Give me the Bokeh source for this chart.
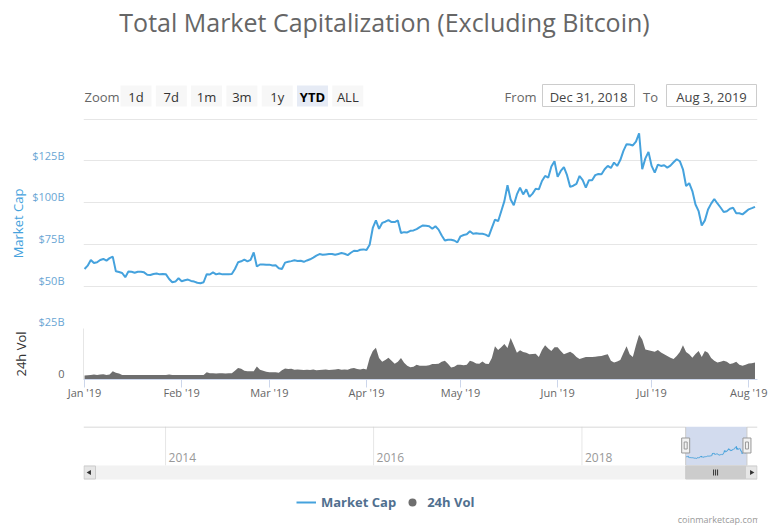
import pandas as pd
from bokeh.plotting import figure
from bokeh.models import (Range1d, FixedTicker, MonthsTicker, DatetimeTickFormatter,
                          Legend, LegendItem, Label, ColumnDataSource)
from bokeh.layouts import column
from bokeh.embed import file_html
from bokeh.resources import INLINE
from bokeh.core.properties import value

# ---------------- data ----------------
TITLE = "Total Market Capitalization (Excluding Bitcoin)"
start_date = "2019-01-01"
mcap_b = [
    60.5, 62.5, 65.9, 64.1, 64.5, 65.9, 66.5, 65.5, 67.0, 67.9,
    59.1, 58.7, 58.1, 55.6, 59.0, 58.9, 58.3, 58.9, 58.8, 58.5,
    57.1, 56.9, 57.5, 57.8, 57.3, 57.5, 57.3, 54.5, 52.6, 53.0,
    55.0, 53.2, 53.8, 54.2, 53.4, 53.0, 52.3, 52.0, 52.6, 57.4,
    57.2, 58.5, 57.3, 57.8, 57.3, 57.3, 57.3, 57.5, 60.5, 64.5,
    65.1, 66.1, 65.0, 66.0, 70.4, 62.0, 63.2, 63.2, 63.0, 63.1,
    62.6, 62.7, 61.0, 60.5, 64.3, 64.8, 65.2, 65.7, 65.3, 65.4,
    64.8, 65.6, 66.3, 67.3, 68.5, 69.4, 69.0, 69.2, 69.4, 69.5,
    69.0, 69.5, 70.0, 69.6, 68.8, 70.2, 71.4, 71.2, 72.0, 72.2,
    71.8, 75.0, 85.0, 89.5, 84.5, 88.0, 88.7, 89.7, 88.5, 88.5,
    89.5, 82.0, 82.5, 82.3, 83.3, 83.5, 84.3, 85.5, 86.5, 86.3,
    86.0, 84.5, 86.0, 84.0, 80.5, 77.5, 78.0, 78.0, 77.5, 76.4,
    80.0, 80.8, 81.2, 83.0, 81.5, 81.8, 81.5, 81.5, 81.0, 80.0,
    85.0, 90.0, 89.0, 95.0, 101.0, 110.5, 102.0, 98.5, 105.0, 109.1,
    105.0, 108.0, 103.5, 105.5, 108.4, 108.0, 113.0, 116.0, 115.0, 121.6,
    124.8, 115.5, 119.0, 121.3, 116.5, 109.5, 110.2, 111.3, 116.0, 113.5,
    109.0, 113.5, 113.5, 116.5, 117.2, 117.0, 120.0, 122.0, 120.8, 124.0,
    122.0, 125.5, 131.0, 135.0, 134.8, 134.2, 136.5, 141.5, 120.0, 126.5,
    130.4, 122.0, 118.0, 122.8, 122.0, 122.4, 121.0, 122.2, 124.2, 126.0,
    124.8, 120.0, 110.0, 111.7, 107.0, 99.0, 95.0, 86.5, 89.5, 96.0,
    99.5, 102.3, 99.6, 97.2, 94.5, 95.0, 96.5, 97.0, 93.8, 93.8,
    93.1, 94.6, 96.1, 96.8, 97.6,
]
vol_b = [
    8.0, 8.6, 9.4, 10.0, 9.4, 10.0, 10.6, 9.4, 10.0,
    16.6, 14.0, 12.0, 9.4,
    9.4, 9.0, 9.4, 9.0, 9.4, 9.4, 9.0, 9.4, 9.4, 9.0, 9.0, 9.4, 9.4,
    9.0, 10.0, 9.4, 9.0, 9.4, 9.4, 9.0, 9.4, 9.0, 9.0, 9.4, 9.4, 9.0,
    14.6,
    12.6, 12.6, 12.0, 12.6, 12.6, 12.0, 12.6, 12.6,
    18.0, 23.4, 22.0, 18.0, 16.6, 16.6, 17.0, 26.6, 20.0, 18.0,
    16.0, 14.6, 14.6, 14.6, 14.0, 19.0, 22.6, 21.4, 22.0, 20.0,
    20.6, 20.0, 19.4, 20.0, 19.4, 20.6, 19.0, 19.4, 20.0, 20.6,
    19.4, 20.0, 20.6, 21.4, 20.0, 20.6, 20.0, 22.6, 23.4, 21.4,
    20.6, 22.0, 20.6,
    44.0, 58.0, 64.6, 44.0, 36.0, 40.0, 44.6, 38.0, 32.0, 36.0,
    44.0, 34.0, 28.0, 25.0, 26.0, 30.0,
    28.0, 28.0, 28.0, 29.0, 31.4, 31.4, 32.0, 36.0, 38.0, 32.0,
    24.6, 26.0, 30.0, 30.0, 29.0, 30.0, 38.0, 36.0, 32.6, 32.0,
    36.6, 32.0, 31.4, 44.0, 68.0, 60.0, 66.0, 72.6, 64.0, 84.6,
    70.0, 54.6, 59.4, 56.0, 54.6, 51.4, 52.0, 52.6, 46.0, 60.0,
    70.0, 63.4, 58.0, 66.0, 66.0, 58.0, 51.4, 54.0, 56.6, 52.6,
    46.0, 42.0, 44.0, 46.0, 46.0, 46.0, 46.6, 47.4, 48.0, 50.0,
    51.4, 38.0, 34.6, 36.6, 40.0, 54.0, 68.0, 51.4, 46.0, 70.0,
    91.4, 81.4, 61.4, 59.4, 58.0, 56.6, 60.0, 55.0, 51.4, 48.0,
    44.6, 42.0, 48.0, 56.0, 70.0, 56.0, 51.4, 44.6, 52.0, 58.0,
    46.0, 58.0, 54.6, 44.0, 38.0, 34.6, 36.0, 38.0, 36.0, 31.4,
    33.0, 36.0, 30.0, 28.0, 30.0, 32.6, 33.0, 34.6,
]
cap_ticks = [25, 50, 75, 100, 125, 150]
cap_labels = ["$25B", "$50B", "$75B", "$100B", "$125B"]
vol_labels = ["0"]
zoom_buttons = ["1d", "7d", "1m", "3m", "1y", "YTD", "ALL"]
selected_button = "YTD"
range_from = "2018-12-31"
range_to = "2019-08-03"
nav_years = ["2014-01-01", "2016-01-01", "2018-01-01"]
nav_start = "2013-03-19"
nav_end = "2019-09-09"
series_names = ["Market Cap", "24h Vol"]
credit = "coinmarketcap.com"

# ---------------- styling ----------------
FONT = "Open Sans"
BLUE = "#45a2dd"
BLUE_LABEL = "#6aa6d4"
VOL_GRAY = "#6e6e6e"
GRID = "#e6e6e6"
W = 768
LEFT, RIGHT = 83, 11          # frame borders shared by all panes
CAP_LABEL_LIFT = 3.5          # labels sit slightly above their grid lines
VOL_LABEL_LIFT = 12
NAN = float("nan")

dates = pd.date_range(start_date, periods=len(mcap_b), freq="D")
src = ColumnDataSource(dict(date=dates, mcap=mcap_b, vol=vol_b[:len(mcap_b)]))


def fmt(d):
    t = pd.Timestamp(d)
    return t.strftime("%b ") + str(t.day) + t.strftime(", %Y")


def base_fig(**kw):
    return figure(width=W, output_backend="svg", toolbar_location=None,
                  min_border_left=LEFT, min_border_right=RIGHT,
                  outline_line_color=None, **kw)


# ---------------- header (title + range selector), pixel space ----------------
hdr = base_fig(height=118, x_range=Range1d(LEFT, W - RIGHT), y_range=Range1d(118, 0),
               x_axis_location=None, y_axis_location=None,
               min_border_top=0, min_border_bottom=0)
hdr.grid.visible = False
hdr.text(x=[384], y=[21], text=[TITLE], text_font=value(FONT), text_font_size="25px",
         text_color="#666666", text_align="center", text_baseline="middle")
hdr.text(x=[84], y=[96], text=["Zoom"], text_font=value(FONT), text_font_size="13px",
         text_color="#666666", text_align="left", text_baseline="middle")
bx = [135.5 + 35.3 * i for i in range(len(zoom_buttons))]
fills = ["#e6ebf5" if b == selected_button else "#f7f7f7" for b in zoom_buttons]
hdr.rect(x=bx, y=[95.5] * len(bx), width=31, height=21, fill_color=fills, line_color=None)
for xx, b in zip(bx, zoom_buttons):
    sel = b == selected_button
    hdr.text(x=[xx], y=[96], text=[b], text_font=value(FONT), text_font_size="13px",
             text_color="#000000" if sel else "#333333",
             text_font_style="bold" if sel else "normal",
             text_align="center", text_baseline="middle")
hdr.text(x=[536], y=[96], text=["From"], text_font=value(FONT), text_font_size="13px",
         text_color="#666666", text_align="right", text_baseline="middle")
hdr.text(x=[650], y=[96], text=["To"], text_font=value(FONT), text_font_size="13px",
         text_color="#666666", text_align="center", text_baseline="middle")
hdr.rect(x=[588, 711], y=[95, 95], width=[92, 90], height=22, fill_color="white",
         line_color="#cccccc")
hdr.text(x=[588, 711], y=[96, 96], text=[fmt(range_from), fmt(range_to)],
         text_font=value(FONT), text_font_size="13px", text_color="#444444",
         text_align="center", text_baseline="middle")

# ---------------- main pane: market cap ----------------
xr = Range1d(dates[0] - pd.Timedelta(hours=8), dates[-1] + pd.Timedelta(hours=19))
pf = base_fig(height=210, x_range=xr, y_range=Range1d(25, 150.3),
              x_axis_type="datetime", x_axis_location=None,
              min_border_top=0, min_border_bottom=0)
pf.line("date", "mcap", source=src, line_color=BLUE, line_width=2)
pf.xgrid.visible = False
pf.ygrid.ticker = FixedTicker(ticks=cap_ticks)
pf.ygrid.grid_line_color = GRID
ya = pf.yaxis[0]
lab_ticks = [t + CAP_LABEL_LIFT for t in cap_ticks[:len(cap_labels)]]
ya.ticker = FixedTicker(ticks=lab_ticks)
ya.major_label_overrides = dict(zip(lab_ticks, cap_labels))
ya.axis_label = series_names[0]
ya.axis_line_color = None
ya.major_tick_line_color = None
ya.minor_tick_line_color = None
ya.major_label_standoff = 13
ya.major_label_text_color = BLUE_LABEL
ya.major_label_text_font = FONT
ya.major_label_text_font_size = "11px"
ya.axis_label_text_color = BLUE
ya.axis_label_text_font = FONT
ya.axis_label_text_font_size = "13px"
ya.axis_label_text_font_style = "normal"
ya.axis_label_standoff = 2

# ---------------- volume pane ----------------
vf = base_fig(height=77, x_range=xr, y_range=Range1d(0, 104),
              x_axis_type="datetime", min_border_top=0, min_border_bottom=26)
vf.varea(x="date", y1=0, y2="vol", source=src, fill_color=VOL_GRAY)
vf.xgrid.visible = False
vf.ygrid.ticker = FixedTicker(ticks=[104])
vf.ygrid.grid_line_color = GRID
va = vf.yaxis[0]
vol_lab_ticks = [0 + VOL_LABEL_LIFT]
va.ticker = FixedTicker(ticks=vol_lab_ticks)
va.major_label_overrides = dict(zip(vol_lab_ticks, vol_labels))
va.axis_label = series_names[1]
va.axis_line_color = "#e6e6e6"
va.major_tick_line_color = None
va.minor_tick_line_color = None
va.major_label_standoff = 13
va.major_label_text_color = "#666666"
va.major_label_text_font = FONT
va.major_label_text_font_size = "11px"
va.axis_label_text_color = "#333333"
va.axis_label_text_font = FONT
va.axis_label_text_font_size = "13px"
va.axis_label_text_font_style = "normal"
va.axis_label_standoff = 25
xa = vf.xaxis[0]
xa.ticker = MonthsTicker(months=list(range(12)))
xa.formatter = DatetimeTickFormatter(months="%b '%y", days="%b '%y", years="%b '%y")
xa.axis_line_color = "#ccd6eb"
xa.major_tick_line_color = "#ccd6eb"
xa.major_tick_out = 8
xa.major_tick_in = 0
xa.minor_tick_line_color = None
xa.major_label_standoff = -3
xa.major_label_text_color = "#666666"
xa.major_label_text_font = FONT
xa.major_label_text_font_size = "11px"

# ---------------- navigator + scrollbar + legend (pixel y, date x) ----------------
ns, ne = pd.Timestamp(nav_start), pd.Timestamp(nav_end)
rf, rt = pd.Timestamp(range_from), pd.Timestamp(range_to)
nf = base_fig(height=123, x_range=Range1d(LEFT, W - RIGHT), y_range=Range1d(528, 426),
              x_axis_location=None, y_axis_location=None,
              min_border_top=21, min_border_bottom=0)
nf.grid.visible = False
nf.extra_x_ranges = {"date": Range1d(ns, ne)}
nf.extra_y_ranges = {"nav": Range1d(-466.7, 288.9)}
year_ts = [pd.Timestamp(y) for y in nav_years]
# year grid lines and labels
nf.segment(x0=year_ts, x1=year_ts, y0=[426] * 3, y1=[465] * 3, x_range_name="date",
           line_color=GRID, line_width=1)
nf.text(x=year_ts, y=[457] * 3, text=[str(t.year) for t in year_ts], x_range_name="date",
        x_offset=3, text_font=value(FONT), text_font_size="12px", text_color="#999999",
        text_align="left", text_baseline="middle")
# selected range mask + outline
nf.quad(left=[rf], right=[rt], bottom=[465], top=[426], x_range_name="date",
        fill_color="#d2dbee", line_color=None)
nf.line("date", "mcap", source=src, x_range_name="date", y_range_name="nav",
        line_color=BLUE, line_width=1)
nf.multi_line(xs=[[ns, rf, rf, rt, rt, ne]], ys=[[426.5, 426.5, 465, 465, 426.5, 426.5]],
              x_range_name="date", line_color="#cccccc", line_width=1)
# scrollbar
nf.quad(left=[LEFT], right=[W - RIGHT], bottom=[479], top=[465], fill_color="#f2f2f2",
        line_color=None)
dpx = (ne - ns) / (W - RIGHT - LEFT)
nf.quad(left=[rf], right=[min(rt, ne - 12 * dpx)], bottom=[478.5], top=[465.5],
        x_range_name="date", fill_color="#cccccc", line_color="#cccccc")
nf.quad(left=[LEFT + 0.5, W - RIGHT - 12], right=[LEFT + 12, W - RIGHT - 0.5],
        bottom=[478.5, 478.5], top=[465.5, 465.5], fill_color="#e6e6e6",
        line_color="#cccccc")
nf.scatter(x=[LEFT + 6, W - RIGHT - 6], y=[472, 472], marker="triangle", size=5,
           angle=[1.5708, -1.5708], fill_color="#333333", line_color=None)
mid = rf + (min(rt, ne - 12 * dpx) - rf) / 2
nf.segment(x0=[mid - 2 * dpx, mid, mid + 2 * dpx], x1=[mid - 2 * dpx, mid, mid + 2 * dpx],
           y0=[469] * 3, y1=[475] * 3, x_range_name="date", line_color="#333333",
           line_width=1)
# handles
nf.rect(x=[rf, rt], y=[445, 445], width=8, height=15, width_units="screen",
        height_units="screen", x_range_name="date", fill_color="#f2f2f2",
        line_color="#999999")
nf.rect(x=[rf, rt], y=[445, 445], width=3, height=7, width_units="screen",
        height_units="screen", x_range_name="date", fill_color=None, line_color="#999999")

# legend (proxy renderers holding a single empty point)
leg_line = nf.line(x=[NAN, NAN], y=[NAN, NAN], line_color=BLUE, line_width=2)
leg_dot = nf.scatter(x=[NAN], y=[NAN], marker="circle", size=11, fill_color=VOL_GRAY,
                     line_color=None)
legend = Legend(items=[LegendItem(label=series_names[0], renderers=[leg_line]),
                       LegendItem(label=series_names[1], renderers=[leg_dot])],
                orientation="horizontal", location=(213, 14),
                border_line_color=None, background_fill_alpha=0,
                label_text_font=FONT, label_text_font_size="13px",
                label_text_font_style="bold", label_text_color="#51708f",
                glyph_width=20, glyph_height=24, label_height=24, label_standoff=5,
                spacing=6, padding=2, margin=0)
nf.add_layout(legend)
nf.add_layout(Label(x=W - 8, y=519, text=credit, text_font=FONT, text_font_size="9px",
                    text_color="#999999", text_align="right", text_baseline="middle"))

layout = column(hdr, pf, vf, nf)
open("out.html", "w").write(file_html(layout, INLINE, title=TITLE))
